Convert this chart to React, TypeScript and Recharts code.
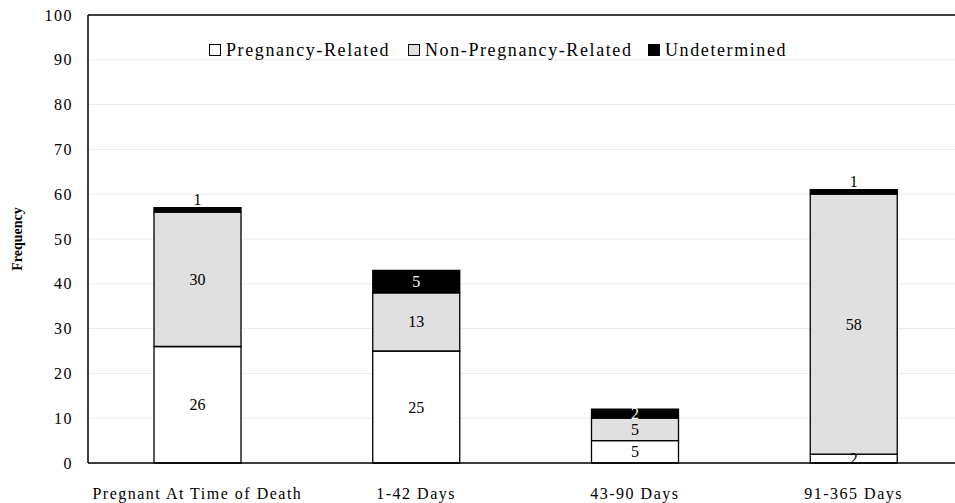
import React from "react";
import { BarChart, Bar, XAxis, YAxis, CartesianGrid, LabelList, ReferenceLine, Label } from "recharts";

const categories = ["Pregnant At Time of Death", "1-42 Days", "43-90 Days", "91-365 Days"];
const pregnancyRelated = [26, 25, 5, 2];
const nonPregnancyRelated = [30, 13, 5, 58];
const undetermined = [1, 5, 2, 1];
const yTicks = [0, 10, 20, 30, 40, 50, 60, 70, 80, 90, 100];

const data = categories.map((name, i) => ({
  name,
  preg: pregnancyRelated[i],
  nonPreg: nonPregnancyRelated[i],
  und: undetermined[i],
}));

const FONT = "'Liberation Serif', 'Times New Roman', serif";

const legendItems = [
  { label: "Pregnancy-Related", fill: "#ffffff", left: 209 },
  { label: "Non-Pregnancy-Related", fill: "#e0e0e0", left: 408 },
  { label: "Undetermined", fill: "#000000", left: 648 },
];

// labels centred in the segment
const centerLabel = (color: string) => (props: any) => {
  const { x, y, width, height, value } = props;
  return (
    <text
      x={x + width / 2}
      y={y + height / 2}
      fill={color}
      textAnchor="middle"
      dominantBaseline="central"
      fontFamily={FONT}
      fontSize={16}
    >
      {value}
    </text>
  );
};

// small black segments get their label on top
const undLabel = (props: any) => {
  const { x, y, width, value } = props;
  if (value <= 1) {
    return (
      <text x={x + width / 2} y={y - 3} fill="#000" textAnchor="middle" fontFamily={FONT} fontSize={16}>
        {value}
      </text>
    );
  }
  return centerLabel("#fff")(props);
};

export default function App() {
  return (
    <div style={{ position: "absolute", left: 0, top: 0, width: 955, height: 503, overflow: "hidden", background: "#fff" }}>
      <BarChart
        width={976}
        height={503}
        data={data}
        margin={{ top: 15, right: 13, left: 0, bottom: 0 }}
        barSize={87}
      >
        <CartesianGrid vertical={false} stroke="#ebebeb" strokeWidth={1} />
        <XAxis
          dataKey="name"
          interval={0}
          axisLine={{ stroke: "#000", strokeWidth: 1.5 }}
          tickLine={false}
          tickSize={0}
          tickMargin={25}
          height={40}
          tick={{ fill: "#000", fontFamily: FONT, fontSize: 16, letterSpacing: 1.5 }}
        />
        <YAxis
          domain={[0, 100]}
          ticks={yTicks}
          interval={0}
          width={88}
          axisLine={{ stroke: "#000", strokeWidth: 1.5 }}
          tickLine={false}
          tickSize={0}
          tickMargin={15}
          tick={{ fill: "#000", fontFamily: FONT, fontSize: 16, letterSpacing: 1.5 }}
        >
          <Label
            content={(p: any) => {
              const vb = p.viewBox || { x: 0, y: 15, height: 448 };
              const cx = vb.x + 17;
              const cy = vb.y + vb.height / 2;
              return (
                <text
                  x={cx}
                  y={cy}
                  transform={`rotate(-90, ${cx}, ${cy})`}
                  textAnchor="middle"
                  dominantBaseline="central"
                  fontFamily={FONT}
                  fontWeight="bold"
                  fontSize={14}
                  fill="#000"
                >
                  Frequency
                </text>
              );
            }}
          />
        </YAxis>
        <ReferenceLine y={100} stroke="#000" strokeWidth={1.5} />
        <Bar dataKey="preg" stackId="a" fill="#ffffff" stroke="#000" strokeWidth={1.3} isAnimationActive={false}>
          <LabelList dataKey="preg" content={centerLabel("#000")} />
        </Bar>
        <Bar dataKey="nonPreg" stackId="a" fill="#e0e0e0" stroke="#000" strokeWidth={1.3} isAnimationActive={false}>
          <LabelList dataKey="nonPreg" content={centerLabel("#000")} />
        </Bar>
        <Bar dataKey="und" stackId="a" fill="#000000" stroke="#000" strokeWidth={1.3} isAnimationActive={false}>
          <LabelList dataKey="und" content={undLabel} />
        </Bar>
      </BarChart>
      {/* legend drawn on top of the plot area */}
      {legendItems.map((it) => (
        <div
          key={it.label}
          style={{
            position: "absolute",
            left: it.left,
            top: 39,
            height: 22,
            display: "flex",
            alignItems: "center",
            whiteSpace: "nowrap",
            fontFamily: FONT,
          }}
        >
          <span
            style={{ display: "inline-block", width: 10, height: 10, background: it.fill, border: "1px solid #000", marginRight: 5 }}
          />
          <span style={{ fontSize: 18, letterSpacing: 1.6, color: "#000" }}>{it.label}</span>
        </div>
      ))}
    </div>
  );
}
